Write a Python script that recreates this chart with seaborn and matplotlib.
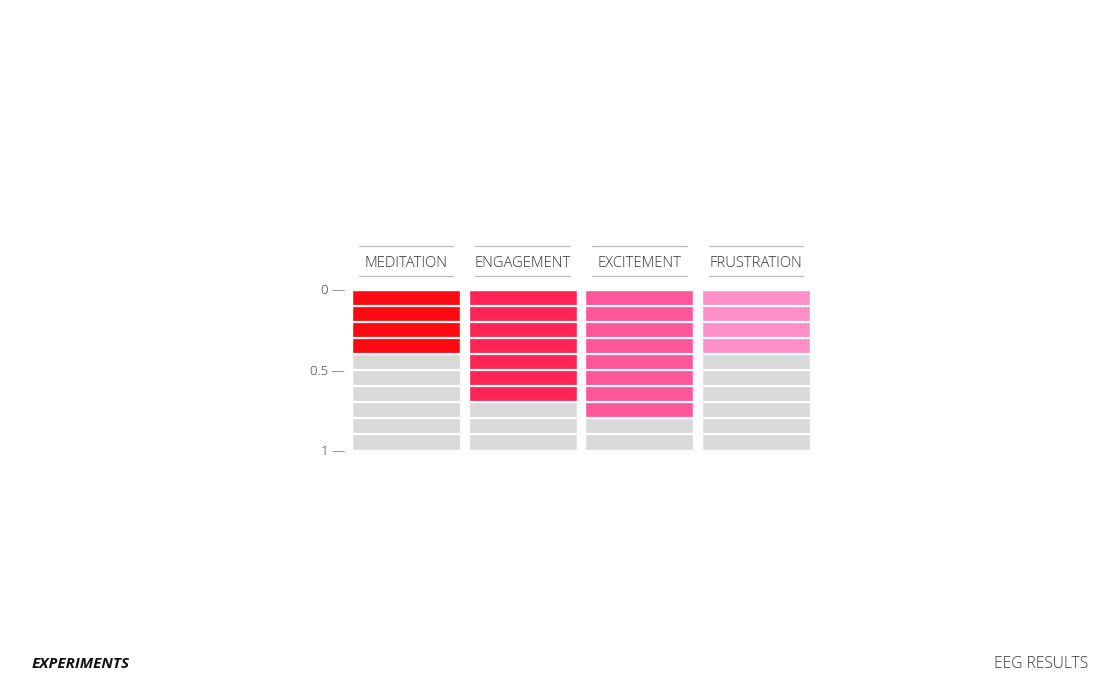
import pandas as pd
import matplotlib.pyplot as plt
import seaborn as sns

# data
categories = ["MEDITATION", "ENGAGEMENT", "EXCITEMENT", "FRUSTRATION"]
levels = [0.4, 0.7, 0.8, 0.4]
colors = ["#FF0A14", "#FF2356", "#FF5599", "#FF8FC8"]
tick_values = [0, 0.5, 1]
tick_labels = ["0 \u2014", "0.5 \u2014", "1 \u2014"]
step = 0.1

sns.set_style("white")
plt.rcParams["font.family"] = ["Open Sans", "DejaVu Sans"]

df = pd.DataFrame({"category": categories, "level": levels, "full": [1.0] * len(categories)})

fig = plt.figure(figsize=(11.2, 7), dpi=100)
ax = fig.add_axes([347.7 / 1120, 1 - 450 / 700, 466.6 / 1120, 160.5 / 700])

# grey background then the coloured part on top
sns.barplot(data=df, x="category", y="full", color="#D9D9D9", width=0.923,
            saturation=1, ax=ax)
sns.barplot(data=df, x="category", y="level", hue="category", palette=colors,
            width=0.923, saturation=1, legend=False, ax=ax)

# white gaps that cut the bars into blocks
for k in range(1, 10):
    ax.axhline(k * step, color="white", lw=1.6)

ax.set_xlim(-0.5, 3.5)
ax.set_ylim(1, 0)
ax.set_xlabel("")
ax.set_ylabel("")
ax.set_xticks([])
ax.set_yticks(tick_values)
ax.set_yticklabels(tick_labels, fontsize=9.5, color="#333333", fontweight="light")
ax.tick_params(axis="y", length=0, pad=2)
sns.despine(ax=ax, left=True, bottom=True)

# column headers between two thin rules
for i, name in enumerate(categories):
    ax.plot([i - 0.405, i + 0.405], [-0.271, -0.271], color="#BBBBBB", lw=0.9, clip_on=False)
    ax.plot([i - 0.405, i + 0.405], [-0.084, -0.084], color="#BBBBBB", lw=0.9, clip_on=False)
    ax.text(i, -0.16, name, ha="center", va="center", fontsize=10.6,
            color="#333333", fontweight="light")

fig.text(32 / 1120, 1 - 664 / 700, "EXPERIMENTS", fontsize=11, fontweight="bold",
         fontstyle="italic", color="#111111", va="center", ha="left")
fig.text(1088 / 1120, 1 - 664 / 700, "EEG RESULTS", fontsize=11.2, fontweight="light",
         color="#333333", va="center", ha="right")

fig.savefig("out.png", dpi=100)
